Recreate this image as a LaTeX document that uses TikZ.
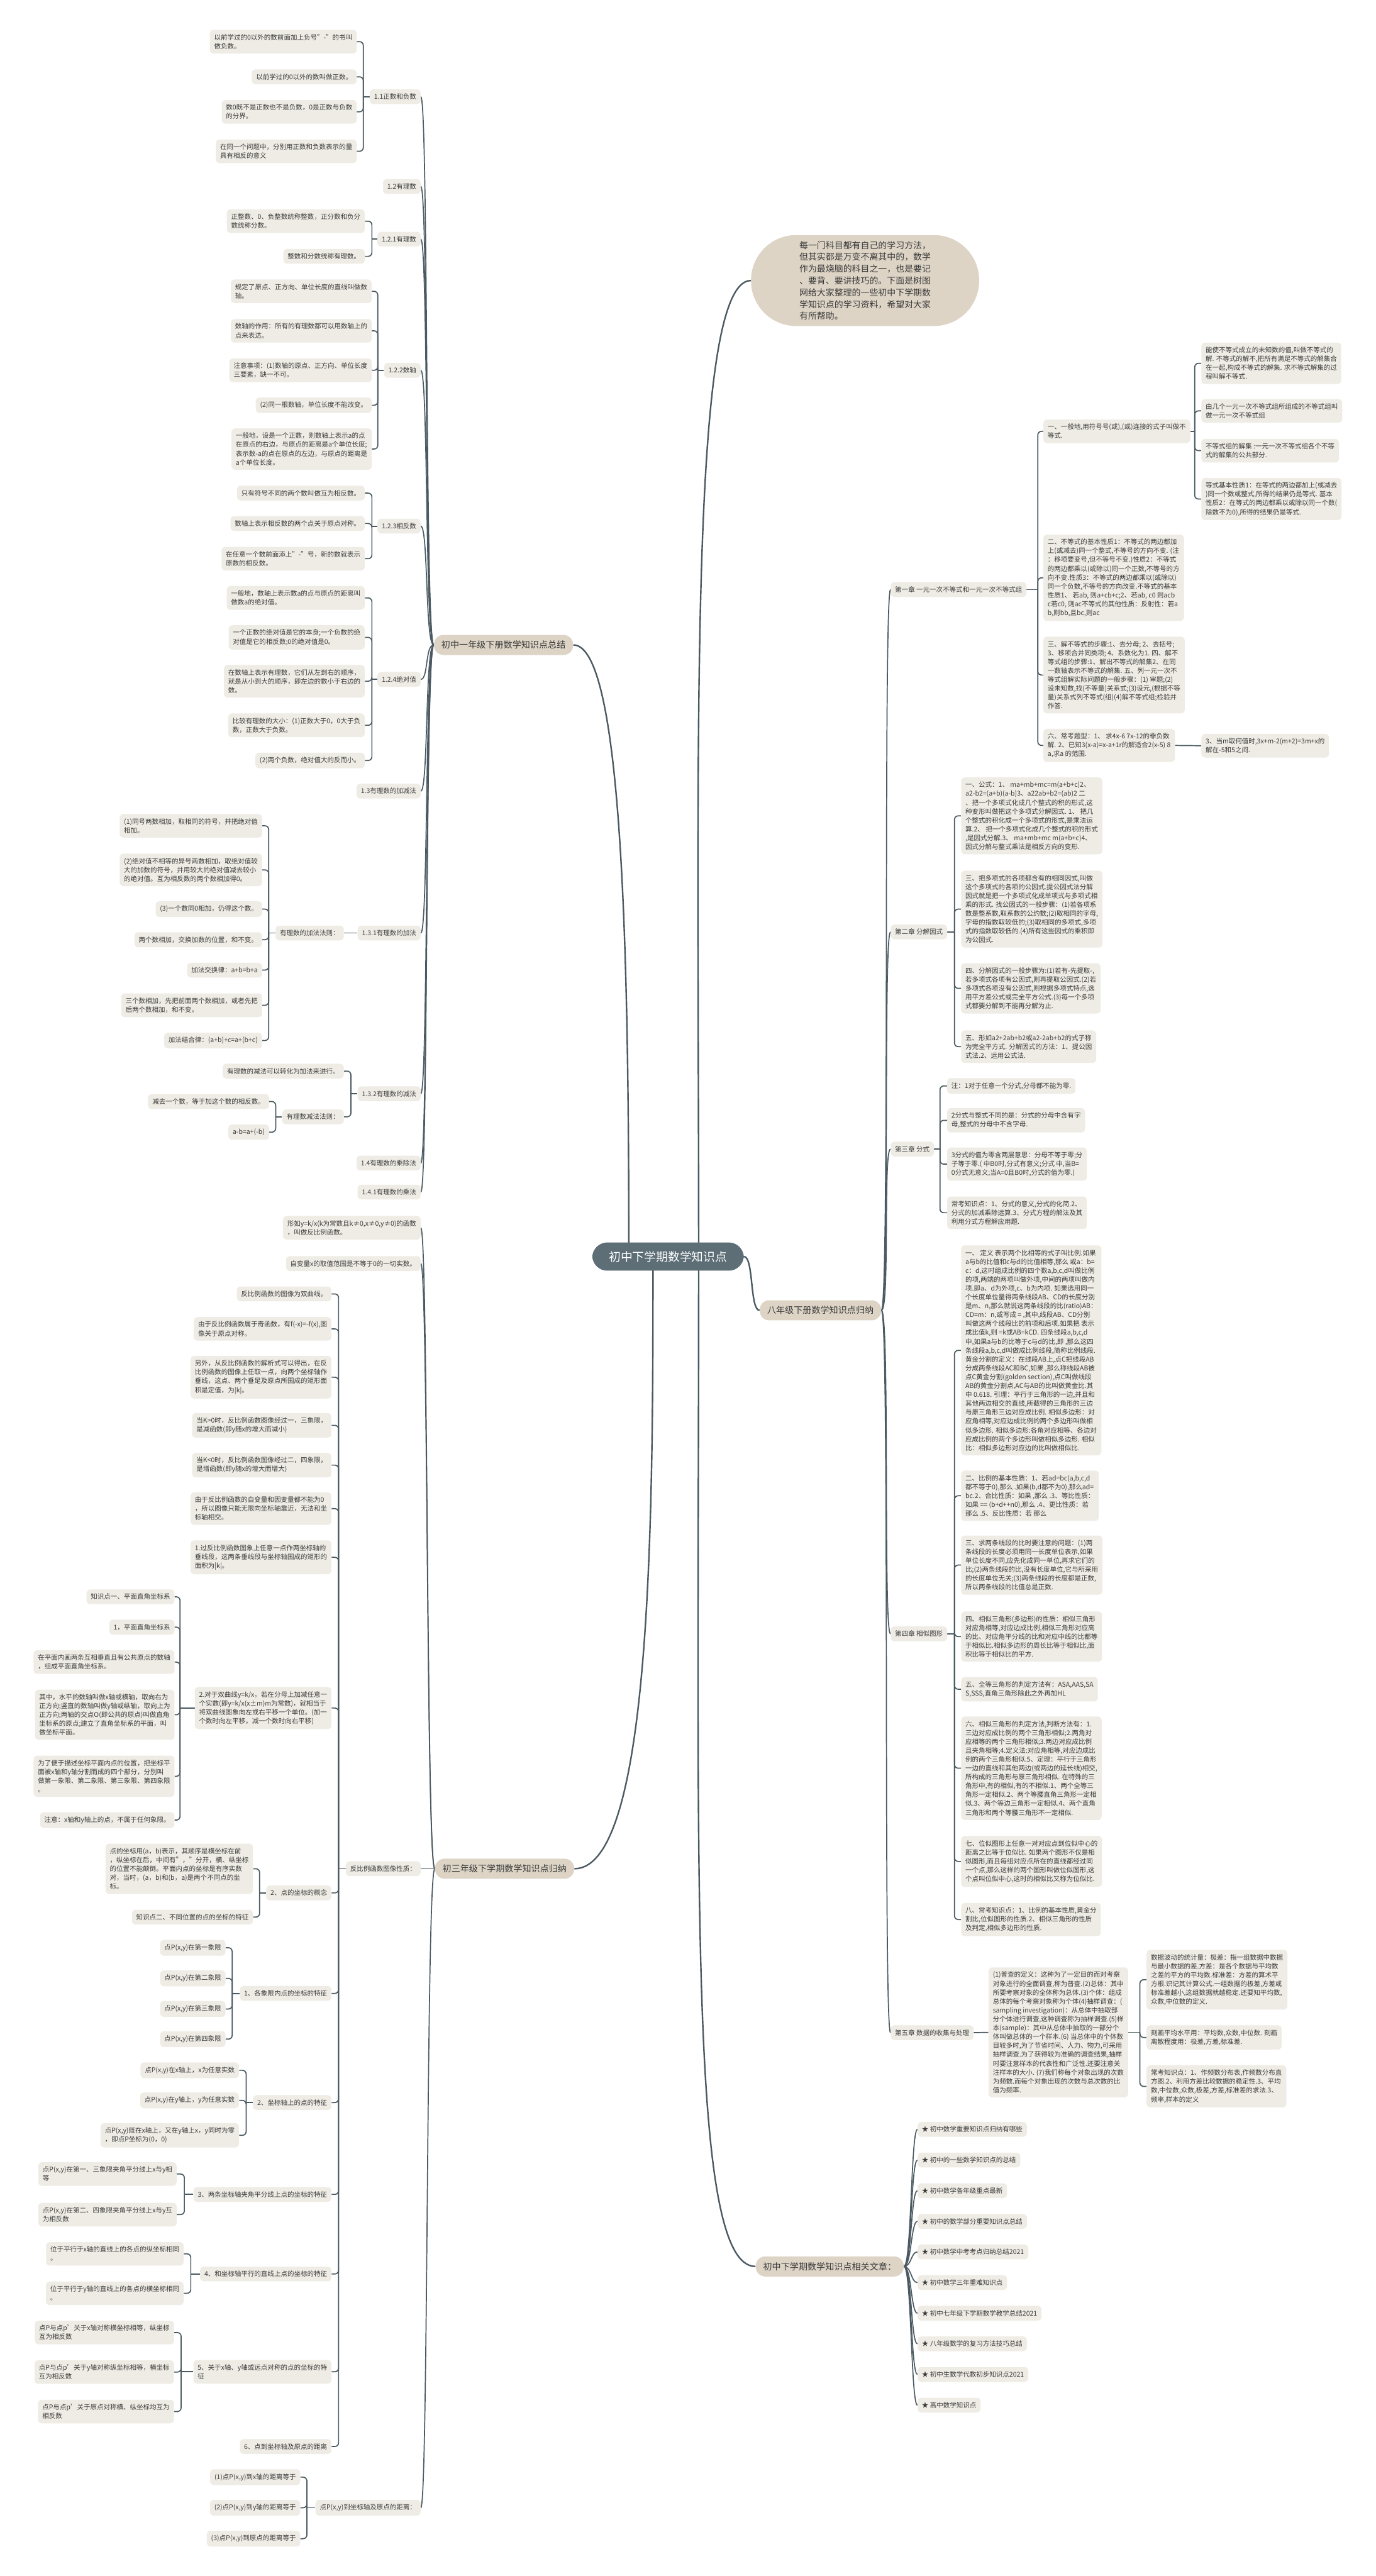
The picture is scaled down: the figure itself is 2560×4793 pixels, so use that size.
\documentclass[tikz,border=0pt]{standalone}
\usepackage{fontspec}
\setmainfont{Noto Sans CJK SC}
\usetikzlibrary{calc,backgrounds}
\definecolor{cRoot}{HTML}{5D6E77}
\definecolor{cMain}{HTML}{DDD4C6}
\definecolor{cLeaf}{HTML}{EFECE5}
\definecolor{cLine}{HTML}{4B5A62}
\definecolor{cText}{HTML}{3A3A3A}
\tikzset{
  leaf/.style  ={fill=cLeaf,rounded corners=3.5pt,inner xsep=4pt,inner ysep=4pt,
                 align=left,text=cText,font=\fontsize{6.15}{8.25}\selectfont},
  mainb/.style ={fill=cMain,rounded corners=9pt,inner xsep=7pt,inner ysep=5.5pt,
                 text=cText,font=\fontsize{8.25}{10}\selectfont},
  rootn/.style ={fill=cRoot,rounded corners=14pt,inner xsep=15.5pt,inner ysep=8pt,
                 text=white,font=\fontsize{11}{13}\selectfont},
  introb/.style={fill=cMain,rounded corners=42pt,inner xsep=45pt,inner ysep=5.5pt,
                 align=left,text=cText,font=\fontsize{8.15}{11}\selectfont},
  lnk/.style   ={draw=cLine,line width=1pt},
  brk/.style   ={lnk,rounded corners=3.5pt},
  trunk/.style ={draw=cLine,line width=1.4pt},
}

\begin{document}
\begin{tikzpicture}[x=0.5pt,y=-0.5pt]
\useasboundingbox (0,0) rectangle (2560,4793);

% ===== root and intro ======================================================
\node[rootn] (root) at (1243,2338) {初中下学期数学知识点};
\node[introb,anchor=west] (intro) at (1397,522)
  {每一门科目都有自己的学习方法，\\但其实都是万变不离其中的，数学\\作为最烧脑的科目之一，也是要记\\、要背、要讲技巧的。下面是树图\\网给大家整理的一些初中下学期数\\学知识点的学习资料，希望对大家\\有所帮助。};

% ===== grade 7 branch ======================================================
\node[mainb,anchor=west] (g1) at (807,1200) {初中一年级下册数学知识点总结};
\node[leaf,anchor=east] (a11)  at (783,180)  {1.1正数和负数};
\node[leaf,anchor=east] (a12)  at (783,347)  {1.2有理数};
\node[leaf,anchor=east] (a121) at (783,445)  {1.2.1有理数};
\node[leaf,anchor=east] (a122) at (783,689)  {1.2.2数轴};
\node[leaf,anchor=east] (a123) at (783,979)  {1.2.3相反数};
\node[leaf,anchor=east] (a124) at (783,1264) {1.2.4绝对值};
\node[leaf,anchor=east] (a13)  at (783,1472) {1.3有理数的加减法};
\node[leaf,anchor=east] (a131) at (783,1736) {1.3.1有理数的加法};
\node[leaf,anchor=east] (a132) at (783,2035) {1.3.2有理数的减法};
\node[leaf,anchor=east] (a14)  at (783,2164) {1.4有理数的乘除法};
\node[leaf,anchor=east] (a141) at (783,2218) {1.4.1有理数的乘法};

\node[leaf,anchor=east] (b1) at (664,77.5)  {以前学过的0以外的数前面加上负号"-"的书叫\\做负数。};
\node[leaf,anchor=east] (b2) at (664,143)   {以前学过的0以外的数叫做正数。};
\node[leaf,anchor=east] (b3) at (664,208)   {数0既不是正数也不是负数，0是正数与负数\\的分界。};
\node[leaf,anchor=east] (b4) at (664,281.5) {在同一个问题中，分别用正数和负数表示的量\\具有相反的意义};

\node[leaf,anchor=east] (c1) at (679,411.5) {正整数、0、负整数统称整数，正分数和负分\\数统称分数。};
\node[leaf,anchor=east] (c2) at (679,477)   {整数和分数统称有理数。};

\node[leaf,anchor=east] (d1) at (692,542)   {规定了原点、正方向、单位长度的直线叫做数\\轴。};
\node[leaf,anchor=east] (d2) at (692,615.5) {数轴的作用：所有的有理数都可以用数轴上的\\点来表达。};
\node[leaf,anchor=east] (d3) at (692,689)   {注意事项：(1)数轴的原点、正方向、单位长度\\三要素，缺一不可。};
\node[leaf,anchor=east] (d4) at (692,754)   {(2)同一根数轴，单位长度不能改变。};
\node[leaf,anchor=east] (d5) at (692,835.5) {一般地，设是一个正数，则数轴上表示a的点\\在原点的右边，与原点的距离是a个单位长度;\\表示数-a的点在原点的左边，与原点的距离是\\a个单位长度。};

\node[leaf,anchor=east] (e1) at (679,917.5)  {只有符号不同的两个数叫做互为相反数。};
\node[leaf,anchor=east] (e2) at (679,974)    {数轴上表示相反数的两个点关于原点对称。};
\node[leaf,anchor=east] (e3) at (679,1039.5) {在任意一个数前面添上"-"号，新的数就表示\\原数的相反数。};

\node[leaf,anchor=east] (f1) at (679,1112.5) {一般地，数轴上表示数a的点与原点的距离叫\\做数a的绝对值。};
\node[leaf,anchor=east] (f2) at (679,1186)   {一个正数的绝对值是它的本身;一个负数的绝\\对值是它的相反数;0的绝对值是0。};
\node[leaf,anchor=east] (f3) at (679,1267.5) {在数轴上表示有理数，它们从左到右的顺序，\\就是从小到大的顺序，即左边的数小于右边的\\数。};
\node[leaf,anchor=east] (f4) at (679,1349.5) {比较有理数的大小：(1)正数大于0，0大于负\\数，正数大于负数。};
\node[leaf,anchor=east] (f5) at (679,1415)   {(2)两个负数，绝对值大的反而小。};

\node[leaf,anchor=east] (ad) at (640,1736) {有理数的加法法则：};
\node[leaf,anchor=east] (ad1) at (488,1536.5) {(1)同号两数相加，取相同的符号，并把绝对值\\相加。};
\node[leaf,anchor=east] (ad2) at (488,1618.5) {(2)绝对值不相等的异号两数相加，取绝对值较\\大的加数的符号，并用较大的绝对值减去较小\\的绝对值。互为相反数的两个数相加得0。};
\node[leaf,anchor=east] (ad3) at (488,1691.5) {(3)一个数同0相加，仍得这个数。};
\node[leaf,anchor=east] (ad4) at (488,1748.5) {两个数相加，交换加数的位置，和不变。};
\node[leaf,anchor=east] (ad5) at (488,1805)   {加法交换律：a+b=b+a};
\node[leaf,anchor=east] (ad6) at (488,1870.5) {三个数相加，先把前面两个数相加，或者先把\\后两个数相加，和不变。};
\node[leaf,anchor=east] (ad7) at (488,1936)   {加法结合律：(a+b)+c=a+(b+c)};

\node[leaf,anchor=east] (su1) at (640,1993) {有理数的减法可以转化为加法来进行。};
\node[leaf,anchor=east] (su2) at (640,2078) {有理数减法法则：};
\node[leaf,anchor=east] (su21) at (501,2049.5) {减去一个数，等于加这个数的相反数。};
\node[leaf,anchor=east] (su22) at (501,2106.5) {a-b=a+(-b)};

% ===== grade 9 branch ======================================================
\node[mainb,anchor=west] (g3) at (809,3477) {初三年级下学期数学知识点归纳};
\node[leaf,anchor=east] (k1) at (783,2284.5) {形如y=k/x(k为常数且k≠0,x≠0,y≠0)的函数\\，叫做反比例函数。};
\node[leaf,anchor=east] (k2) at (783,2351)   {自变量x的取值范围是不等于0的一切实数。};
\node[leaf,anchor=east] (k3) at (783,3477)   {反比例函数图像性质：};
\node[leaf,anchor=east] (k4) at (783,4666)   {点P(x,y)到坐标轴及原点的距离：};

\node[leaf,anchor=east] (m1)  at (617,2407.5) {反比例函数的图像为双曲线。};
\node[leaf,anchor=east] (m2)  at (617,2472.5) {由于反比例函数属于奇函数，有f(-x)=-f(x),图\\像关于原点对称。};
\node[leaf,anchor=east] (m3)  at (617,2562.5) {另外，从反比例函数的解析式可以得出，在反\\比例函数的图像上任取一点，向两个坐标轴作\\垂线，这点、两个垂足及原点所围成的矩形面\\积是定值，为|k|。};
\node[leaf,anchor=east] (m4)  at (617,2652)   {当K>0时，反比例函数图像经过一，三象限，\\是减函数(即y随x的增大而减小)};
\node[leaf,anchor=east] (m5)  at (617,2726)   {当K<0时，反比例函数图像经过二，四象限，\\是增函数(即y随x的增大而增大)};
\node[leaf,anchor=east] (m6)  at (617,2807)   {由于反比例函数的自变量和因变量都不能为0\\，所以图像只能无限向坐标轴靠近，无法和坐\\标轴相交。};
\node[leaf,anchor=east] (m7)  at (617,2897.5) {1.过反比例函数图象上任意一点作两坐标轴的\\垂线段，这两条垂线段与坐标轴围成的矩形的\\面积为|k|。};
\node[leaf,anchor=east] (m8)  at (617,3178)   {2.对于双曲线y=k/x，若在分母上加减任意一\\个实数(即y=k/x(x±m)m为常数)，就相当于\\将双曲线图象向左或右平移一个单位。(加一\\个数时向左平移，减一个数时向右平移)};
\node[leaf,anchor=east] (m9)  at (617,3522)   {2、点的坐标的概念};
\node[leaf,anchor=east] (m10) at (617,3709)   {1、各象限内点的坐标的特征};
\node[leaf,anchor=east] (m11) at (617,3912)   {2、坐标轴上的点的特征};
\node[leaf,anchor=east] (m12) at (617,4083)   {3、两条坐标轴夹角平分线上点的坐标的特征};
\node[leaf,anchor=east] (m13) at (617,4231)   {4、和坐标轴平行的直线上点的坐标的特征};
\node[leaf,anchor=east] (m14) at (617,4413)   {5、关于x轴、y轴或远点对称的点的坐标的特\\征};
\node[leaf,anchor=east] (m15) at (617,4552)   {6、点到坐标轴及原点的距离};

\node[leaf,anchor=east] (p1) at (325,2971)   {知识点一、平面直角坐标系};
\node[leaf,anchor=east] (p2) at (325,3027.5) {1，平面直角坐标系};
\node[leaf,anchor=east] (p3) at (325,3092.5) {在平面内画两条互相垂直且有公共原点的数轴\\，组成平面直角坐标系。};
\node[leaf,anchor=east] (p4) at (325,3190.5) {其中，水平的数轴叫做x轴或横轴，取向右为\\正方向;竖直的数轴叫做y轴或纵轴，取向上为\\正方向;两轴的交点O(即公共的原点)叫做直角\\坐标系的原点;建立了直角坐标系的平面，叫\\做坐标平面。};
\node[leaf,anchor=east] (p5) at (325,3305)   {为了便于描述坐标平面内点的位置，把坐标平\\面被x轴和y轴分割而成的四个部分，分别叫\\做第一象限、第二象限、第三象限、第四象限\\。};
\node[leaf,anchor=east] (p6) at (325,3386.5) {注意：x轴和y轴上的点，不属于任何象限。};

\node[leaf,anchor=east] (q1) at (471,3477) {点的坐标用(a，b)表示，其顺序是横坐标在前\\，纵坐标在后，中间有"，"分开，横、纵坐标\\的位置不能颠倒。平面内点的坐标是有序实数\\对，当时，(a，b)和(b，a)是两个不同点的坐\\标。};
\node[leaf,anchor=east] (q2) at (471,3567) {知识点二、不同位置的点的坐标的特征};

\node[leaf,anchor=east] (r1) at (420,3624) {点P(x,y)在第一象限};
\node[leaf,anchor=east] (r2) at (420,3681) {点P(x,y)在第二象限};
\node[leaf,anchor=east] (r3) at (420,3738) {点P(x,y)在第三象限};
\node[leaf,anchor=east] (r4) at (420,3794) {点P(x,y)在第四象限};

\node[leaf,anchor=east] (s1) at (445,3852) {点P(x,y)在x轴上，x为任意实数};
\node[leaf,anchor=east] (s2) at (445,3908) {点P(x,y)在y轴上，y为任意实数};
\node[leaf,anchor=east] (s3) at (445,3973) {点P(x,y)既在x轴上，又在y轴上x，y同时为零\\，即点P坐标为(0，0)};

\node[leaf,anchor=east] (t1) at (329,4045)   {点P(x,y)在第一、三象限夹角平分线上x与y相\\等};
\node[leaf,anchor=east] (t2) at (329,4120.5) {点P(x,y)在第二、四象限夹角平分线上x与y互\\为相反数};

\node[leaf,anchor=east] (u1) at (342,4193.5) {位于平行于x轴的直线上的各点的纵坐标相同\\。};
\node[leaf,anchor=east] (u2) at (342,4267)   {位于平行于y轴的直线上的各点的横坐标相同\\。};

\node[leaf,anchor=east] (v1) at (324,4340)   {点P与点p’关于x轴对称横坐标相等，纵坐标\\互为相反数};
\node[leaf,anchor=east] (v2) at (324,4413.5) {点P与点p’关于y轴对称纵坐标相等，横坐标\\互为相反数};
\node[leaf,anchor=east] (v3) at (324,4487)   {点P与点p’关于原点对称横、纵坐标均互为\\相反数};

\node[leaf,anchor=east] (w1) at (559,4609)   {(1)点P(x,y)到x轴的距离等于};
\node[leaf,anchor=east] (w2) at (559,4666)   {(2)点P(x,y)到y轴的距离等于};
\node[leaf,anchor=east] (w3) at (559,4723.5) {(3)点P(x,y)到原点的距离等于};

% ===== grade 8 branch ======================================================
\node[mainb,anchor=east] (g8) at (1640,2438) {八年级下册数学知识点归纳};
\node[leaf,anchor=west] (ch1) at (1657,1097) {第一章 一元一次不等式和一元一次不等式组};
\node[leaf,anchor=west] (ch2) at (1657,1734) {第二章 分解因式};
\node[leaf,anchor=west] (ch3) at (1657,2138) {第三章 分式};
\node[leaf,anchor=west] (ch4) at (1657,3040) {第四章 相似图形};
\node[leaf,anchor=west] (ch5) at (1657,3782) {第五章 数据的收集与处理};

\node[leaf,anchor=west] (x1) at (1941,802.5) {一、一般地,用符号号(或),(或)连接的式子叫做不\\等式.};
\node[leaf,anchor=west] (x2) at (1941,1075)  {二、不等式的基本性质1：不等式的两边都加\\上(或减去)同一个整式,不等号的方向不变. (注\\：移项要变号,但不等号不变.)性质2：不等式\\的两边都乘以(或除以)同一个正数,不等号的方\\向不变.性质3：不等式的两边都乘以(或除以)\\同一个负数,不等号的方向改变.不等式的基本\\性质1、 若ab, 则a+cb+c;2、若ab, c0 则acb\\c若c0, 则ac不等式的其他性质：反射性：若a\\b,则bb,且bc,则ac};
\node[leaf,anchor=west] (x3) at (1941,1256)  {三、解不等式的步骤:1、去分母; 2、去括号;\\3、移项合并同类项; 4、系数化为1. 四、解不\\等式组的步骤:1、解出不等式的解集2、在同\\一数轴表示不等式的解集. 五、列一元一次不\\等式组解实际问题的一般步骤：(1) 审题;(2)\\设未知数,找(不等量)关系式;(3)设元,(根据不等\\量)关系式列不等式(组)(4)解不等式组;检验并\\作答.};
\node[leaf,anchor=west] (x4) at (1941,1387)  {六、常考题型：1、 求4x-6 7x-12的非负数\\解. 2、已知3(x-a)=x-a+1r的解适合2(x-5) 8\\a,求a 的范围.};

\node[leaf,anchor=west] (y1) at (2235,676)   {能使不等式成立的未知数的值,叫做不等式的\\解. 不等式的解不,把所有满足不等式的解集合\\在一起,构成不等式的解集. 求不等式解集的过\\程叫解不等式.};
\node[leaf,anchor=west] (y2) at (2235,764.5) {由几个一元一次不等式组所组成的不等式组叫\\做一元一次不等式组};
\node[leaf,anchor=west] (y3) at (2235,838.5) {不等式组的解集 :一元一次不等式组各个不等\\式的解集的公共部分.};
\node[leaf,anchor=west] (y4) at (2235,928.5) {等式基本性质1：在等式的两边都加上(或减去\\)同一个数或整式,所得的结果仍是等式. 基本\\性质2：在等式的两边都乘以或除以同一个数(\\除数不为0),所得的结果仍是等式.};
\node[leaf,anchor=west] (z1) at (2235,1387.5) {3、当m取何值时,3x+m-2(m+2)=3m+x的\\解在-5和5之间.};

\node[leaf,anchor=west] (aa1) at (1788,1518)   {一、公式：1、 ma+mb+mc=m(a+b+c)2、\\a2-b2=(a+b)(a-b)3、a22ab+b2=(ab)2 二\\、把一个多项式化成几个整式的积的形式,这\\种变形叫做把这个多项式分解因式. 1、 把几\\个整式的积化成一个多项式的形式,是乘法运\\算.2、 把一个多项式化成几个整式的积的形式\\,是因式分解.3、 ma+mb+mc m(a+b+c)4、\\因式分解与整式乘法是相反方向的变形.};
\node[leaf,anchor=west] (aa2) at (1788,1691.5) {三、把多项式的各项都含有的相同因式,叫做\\这个多项式的各项的公因式.提公因式法分解\\因式就是把一个多项式化成单项式与多项式相\\乘的形式. 找公因式的一般步骤：(1)若各项系\\数是整系数,取系数的公约数;(2)取相同的字母,\\字母的指数取较低的;(3)取相同的多项式,多项\\式的指数取较低的.(4)所有这些因式的乘积即\\为公因式.};
\node[leaf,anchor=west] (aa3) at (1788,1839)   {四、分解因式的一般步骤为:(1)若有-先提取-,\\若多项式各项有公因式,则再提取公因式.(2)若\\多项式各项没有公因式,则根据多项式特点,选\\用平方差公式或完全平方公式.(3)每一个多项\\式都要分解到不能再分解为止.};
\node[leaf,anchor=west] (aa4) at (1788,1947.5) {五、形如a2+2ab+b2或a2-2ab+b2的式子称\\为完全平方式. 分解因式的方法：1、提公因\\式法.2、运用公式法.};

\node[leaf,anchor=west] (bb1) at (1762,2020.5) {注：1对于任意一个分式,分母都不能为零.};
\node[leaf,anchor=west] (bb2) at (1762,2084.5) {2分式与整式不同的是：分式的分母中含有字\\母,整式的分母中不含字母.};
\node[leaf,anchor=west] (bb3) at (1762,2166)   {3分式的值为零含两层意思：分母不等于零;分\\子等于零.( 中B0时,分式有意义;分式 中,当B=\\0分式无意义;当A=0且B0时,分式的值为零.)};
\node[leaf,anchor=west] (bb4) at (1762,2256.5) {常考知识点：1、分式的意义,分式的化简.2、\\分式的加减乘除运算.3、分式方程的解法及其\\利用分式方程解应用题.};

\node[leaf,anchor=west] (cc1) at (1788,2512.5) {一、 定义 表示两个比相等的式子叫比例.如果\\a与b的比值和c与d的比值相等,那么 或a：b=\\c：d,这时组成比例的四个数a,b,c,d叫做比例\\的项,两端的两项叫做外项,中间的两项叫做内\\项.即a、d为外项,c、b为内项. 如果选用同一\\个长度单位量得两条线段AB、CD的长度分别\\是m、n,那么就说这两条线段的比(ratio)AB：\\CD=m：n,或写成 = ,其中,线段AB、CD分别\\叫做这两个线段比的前项和后项.如果把 表示\\成比值k,则 =k或AB=kCD. 四条线段a,b,c,d\\中,如果a与b的比等于c与d的比,即 ,那么这四\\条线段a,b,c,d叫做成比例线段,简称比例线段.\\黄金分割的定义：在线段AB上,点C把线段AB\\分成两条线段AC和BC,如果 ,那么称线段AB被\\点C黄金分割(golden section),点C叫做线段\\AB的黄金分割点,AC与AB的比叫做黄金比.其\\中 0.618. 引理：平行于三角形的一边,并且和\\其他两边相交的直线,所截得的三角形的三边\\与原三角形三边对应成比例. 相似多边形：对\\应角相等,对应边成比例的两个多边形叫做相\\似多边形. 相似多边形:各角对应相等、各边对\\应成比例的两个多边形叫做相似多边形. 相似\\比：相似多边形对应边的比叫做相似比.};
\node[leaf,anchor=west] (cc2) at (1788,2783)   {二、比例的基本性质：1、若ad=bc(a,b,c,d\\都不等于0),那么 .如果(b,d都不为0),那么ad=\\bc.2、合比性质：如果 ,那么 .3、等比性质：\\如果 == (b+d++n0),那么 .4、更比性质：若\\ 那么 .5、反比性质：若 那么};
\node[leaf,anchor=west] (cc3) at (1788,2912)   {三、求两条线段的比时要注意的问题：(1)两\\条线段的长度必须用同一长度单位表示,如果\\单位长度不同,应先化成同一单位,再求它们的\\比;(2)两条线段的比,没有长度单位,它与所采用\\的长度单位无关;(3)两条线段的长度都是正数,\\所以两条线段的比值总是正数.};
\node[leaf,anchor=west] (cc4) at (1788,3045)   {四、相似三角形(多边形)的性质：相似三角形\\对应角相等,对应边成比例,相似三角形对应高\\的比、对应角平分线的比和对应中线的比都等\\于相似比.相似多边形的周长比等于相似比,面\\积比等于相似比的平方.};
\node[leaf,anchor=west] (cc5) at (1788,3143)   {五、全等三角形的判定方法有：ASA,AAS,SA\\S,SSS,直角三角形除此之外再加HL};
\node[leaf,anchor=west] (cc6) at (1788,3290)   {六、相似三角形的判定方法,判断方法有：1.\\三边对应成比例的两个三角形相似;2.两角对\\应相等的两个三角形相似;3.两边对应成比例\\且夹角相等;4.定义法:对应角相等,对应边成比\\例的两个三角形相似.5、定理：平行于三角形\\一边的直线和其他两边(或两边的延长线)相交,\\所构成的三角形与原三角形相似. 在特殊的三\\角形中,有的相似,有的不相似.1、两个全等三\\角形一定相似.2、两个等腰直角三角形一定相\\似.3、两个等边三角形一定相似.4、两个直角\\三角形和两个等腰三角形不一定相似.};
\node[leaf,anchor=west] (cc7) at (1788,3463.5) {七、位似图形上任意一对对应点到位似中心的\\距离之比等于位似比. 如果两个图形不仅是相\\似图形,而且每组对应点所在的直线都经过同\\一个点,那么这样的两个图形叫做位似图形,这\\个点叫位似中心,这时的相似比又称为位似比.};
\node[leaf,anchor=west] (cc8) at (1788,3571.5) {八、常考知识点：1、比例的基本性质,黄金分\\割比,位似图形的性质.2、相似三角形的性质\\及判定,相似多边形的性质.};

\node[leaf,anchor=west] (dd0) at (1839,3781.5) {(1)普查的定义：这种为了一定目的而对考察\\对象进行的全面调查,称为普查.(2)总体：其中\\所要考察对象的全体称为总体.(3)个体：组成\\总体的每个考察对象称为个体(4)抽样调查：(\\sampling investigation)：从总体中抽取部\\分个体进行调查,这种调查称为抽样调查.(5)样\\本(sample)：其中从总体中抽取的一部分个\\体叫做总体的一个样本.(6) 当总体中的个体数\\目较多时,为了节省时间、人力、物力,可采用\\抽样调查.为了获得较为准确的调查结果,抽样\\时要注意样本的代表性和广泛性.还要注意关\\注样本的大小. (7)我们称每个对象出现的次数\\为频数.而每个对象出现的次数与总次数的比\\值为频率.};
\node[leaf,anchor=west] (ee1) at (2133,3683.5) {数据波动的统计量：极差：指一组数据中数据\\与最小数据的差.方差：是各个数据与平均数\\之差的平方的平均数.标准差：方差的算术平\\方根.识记其计算公式.一组数据的极差,方差或\\标准差越小,这组数据就越稳定.还要知平均数,\\众数,中位数的定义.};
\node[leaf,anchor=west] (ee2) at (2133,3791)   {刻画平均水平用：平均数,众数,中位数. 刻画\\离散程度用：极差,方差,标准差.};
\node[leaf,anchor=west] (ee3) at (2133,3882)   {常考知识点：1、作频数分布表,作频数分布直\\方图.2、利用方差比较数据的稳定性.3、平均\\数,中位数,众数,极差,方差,标准差的求法.3、\\频率,样本的定义};

% ===== related articles ====================================================
\node[mainb,anchor=east] (rel) at (1682,4217) {初中下学期数学知识点相关文章：};
\foreach \t [count=\i from 0] in {初中数学重要知识点归纳有哪些,初中的一些数学知识点的总结,
    初中数学各年级重点最新,初中的数学部分重要知识点总结,初中数学中考考点归纳总结2021,
    初中数学三年重难知识点,初中七年级下学期数学教学总结2021,八年级数学的复习方法技巧总结,
    初中生数学代数初步知识点2021,高中数学知识点}
  \node[leaf,anchor=west] (it\i) at (1707,3962+57*\i) {★ \t};

% ===== connectors ==========================================================
\begin{scope}[on background layer]
\fill[white] (0,0) rectangle (2560,4793);
% root to main branches
\draw[trunk] (g1.east) .. controls (1160,1200) and (1170,1800) .. (1170,2338);
\draw[trunk] (g3.east) .. controls (1215,3477) and (1215,2800) .. (1215,2338);
\draw[trunk] (1300,2338) .. controls (1300,1400) and (1280,522) .. (intro.west);
\draw[trunk] (root.east) .. controls +(18,0) and +(-18,0) .. (g8.west);
\draw[trunk] (1300,2338) .. controls (1300,3500) and (1280,4217) .. (rel.west);

% main branches to first level
\foreach \c in {a11,a12,a121,a122,a123,a124,a13,a131,a132,a14,a141}
  \draw[lnk] (g1.west) .. controls +(-16,0) and +(14,0) .. (\c.east);
\foreach \c in {k1,k2,k3,k4}
  \draw[lnk] (g3.west) .. controls +(-16,0) and +(14,0) .. (\c.east);
\foreach \c in {ch1,ch2,ch3,ch4,ch5}
  \draw[lnk] (g8.east) .. controls +(16,0) and +(-14,0) .. (\c.west);
\foreach \i in {0,...,9}
  \draw[lnk] (rel.east) .. controls +(14,0) and +(-12,0) .. (it\i.west);

% brackets, left side: parent/junction/children
\foreach \p/\jx/\kids in {a11/676/{b1,b2,b3,b4}, a121/692/{c1,c2}, a122/703/{d1,d2,d3,d4,d5},
    a123/692/{e1,e2,e3}, a124/692/{f1,f2,f3,f4,f5}, ad/500/{ad1,ad2,ad3,ad4,ad5,ad6,ad7},
    a132/653/{su1,su2}, su2/513/{su21,su22},
    k3/630/{m1,m2,m3,m4,m5,m6,m7,m8,m9,m10,m11,m12,m13,m14,m15},
    m8/335/{p1,p2,p3,p4,p5,p6}, m9/483/{q1,q2}, m10/432/{r1,r2,r3,r4},
    m11/458/{s1,s2,s3}, m12/343/{t1,t2}, m13/355/{u1,u2}, m14/337/{v1,v2,v3},
    k4/571/{w1,w2,w3}} {
  \coordinate (j) at (\jx,0 |- \p.west);
  \draw[brk] (\p.west) -- (j);
  \foreach \c in \kids \draw[brk] (j) |- (\c.east);
}
\draw[lnk] (a131.west) -- (ad.east);

% brackets, right side
\foreach \p/\jx/\kids in {ch1/1931/{x1,x2,x3,x4}, x1/2223/{y1,y2,y3,y4},
    ch2/1776/{aa1,aa2,aa3,aa4}, ch3/1749/{bb1,bb2,bb3,bb4},
    ch4/1776/{cc1,cc2,cc3,cc4,cc5,cc6,cc7,cc8}, dd0/2121/{ee1,ee2,ee3}} {
  \coordinate (j) at (\jx,0 |- \p.east);
  \draw[brk] (\p.east) -- (j);
  \foreach \c in \kids \draw[brk] (j) |- (\c.west);
}
\draw[lnk] (x4.east) -- (z1.west);
\draw[lnk] (ch5.east) -- (dd0.west);
\end{scope}
\end{tikzpicture}
\end{document}
